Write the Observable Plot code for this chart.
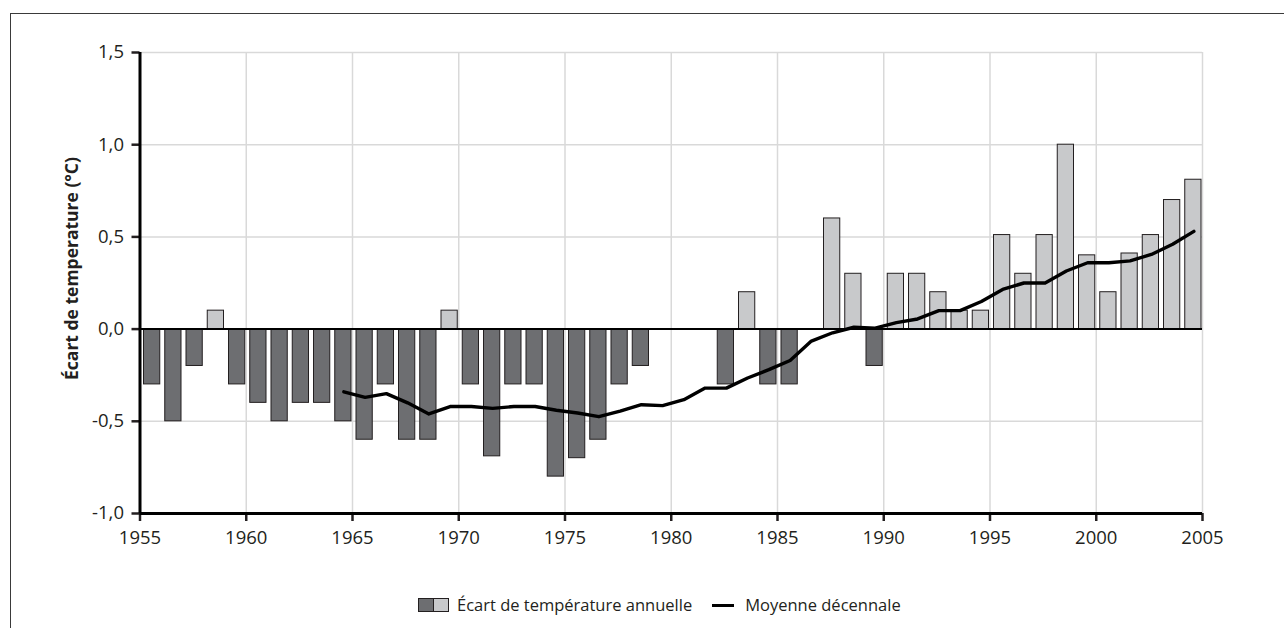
<!DOCTYPE html>
<html><head><meta charset="utf-8">
<script src="https://cdn.jsdelivr.net/npm/d3@7"></script>
<script src="https://cdn.jsdelivr.net/npm/@observablehq/plot@0.6"></script>
<style>
body{margin:0;background:#fff;font-family:"Open Sans",sans-serif;width:1284px;height:628px;overflow:hidden;position:relative;}
#frame{position:absolute;left:10px;top:13px;width:1300px;height:640px;border:1.5px solid #3a3a3a;box-sizing:border-box}
#chart{position:absolute;left:0;top:0;width:1284px}
#legend{position:absolute;left:418px;top:595px;display:flex;align-items:center;font-size:16.5px;color:#231f20;line-height:20px;white-space:nowrap}
.sw{display:inline-block;width:16px;height:14px;border:1px solid #231f20;box-sizing:border-box}
.ln{display:inline-block;width:22px;height:3px;background:#000}
</style></head><body>
<div id="frame"></div>
<div id="chart"></div>
<div id="legend">
  <span class="sw" style="background:#6d6e71"></span><span class="sw" style="background:#c8c9cb;margin-left:-1px"></span>
  <span style="margin-left:8px">Écart de température annuelle</span>
  <span class="ln" style="margin-left:20px"></span>
  <span style="margin-left:11px">Moyenne décennale</span>
</div>
<script>
const years = [1955,1956,1957,1958,1959,1960,1961,1962,1963,1964,1965,1966,1967,1968,1969,1970,1971,1972,1973,1974,1975,1976,1977,1978,1979,1980,1981,1982,1983,1984,1985,1986,1987,1988,1989,1990,1991,1992,1993,1994,1995,1996,1997,1998,1999,2000,2001,2002,2003,2004];
const anomalies = [-0.3,-0.5,-0.2,0.1,-0.3,-0.4,-0.5,-0.4,-0.4,-0.5,-0.6,-0.3,-0.6,-0.6,0.1,-0.3,-0.69,-0.3,-0.3,-0.8,-0.7,-0.6,-0.3,-0.2,0,0,0,-0.3,0.2,-0.3,-0.3,0,0.6,0.3,-0.2,0.3,0.3,0.2,0.1,0.1,0.51,0.3,0.51,1.0,0.4,0.2,0.41,0.51,0.7,0.81];
const meanYears = [1964,1965,1966,1967,1968,1969,1970,1971,1972,1973,1974,1975,1976,1977,1978,1979,1980,1981,1982,1983,1984,1985,1986,1987,1988,1989,1990,1991,1992,1993,1994,1995,1996,1997,1998,1999,2000,2001,2002,2003,2004];
const meanValues = [-0.34,-0.37,-0.35,-0.40,-0.46,-0.42,-0.42,-0.43,-0.42,-0.42,-0.44,-0.455,-0.475,-0.445,-0.41,-0.415,-0.383,-0.32,-0.32,-0.265,-0.22,-0.17,-0.065,-0.02,0.01,0.005,0.035,0.055,0.10,0.10,0.15,0.215,0.25,0.25,0.315,0.36,0.36,0.37,0.405,0.46,0.53];
const xTicks = [1955,1960,1965,1970,1975,1980,1985,1990,1995,2000,2005];
const yTicks = [-1,-0.5,0,0.5,1,1.5];
const yLabel = "Écart de temperature (°C)";

const bars = years.map((year, i) => ({year, value: anomalies[i]})).filter(d => d.value !== 0);
const mean = meanYears.map((year, i) => ({year, value: meanValues[i]}));

const chart = Plot.plot({
  width: 1284, height: 575,
  marginLeft: 139.5, marginRight: 82, marginTop: 52, marginBottom: 62,
  style: {fontFamily: "'Open Sans', sans-serif", fontSize: "18.5px", color: "#231f20", background: "transparent", overflow: "visible"},
  x: {type: "linear", domain: [1955, 2005]},
  y: {domain: [-1, 1.5]},
  marks: [
    Plot.gridX(xTicks.slice(1), {stroke: "#d9d9d9", strokeOpacity: 1, strokeWidth: 1.5}),
    Plot.gridY(yTicks.filter(d => d !== 0 && d !== -1), {stroke: "#d9d9d9", strokeOpacity: 1, strokeWidth: 1.5}),
    Plot.rectY(bars.filter(d => d.value < 0), {x1: "year", x2: d => d.year + 1, y: "value", fill: "#6d6e71", stroke: "#231f20", strokeWidth: 1, insetLeft: 4, insetRight: 1}),
    Plot.rectY(bars.filter(d => d.value > 0), {x1: "year", x2: d => d.year + 1, y: "value", fill: "#c8c9cb", stroke: "#231f20", strokeWidth: 1, insetLeft: 4, insetRight: 1}),
    Plot.ruleY([0], {stroke: "#000", strokeWidth: 2}),
    Plot.line(mean, {x: d => d.year + 0.5, y: "value", stroke: "#000", strokeWidth: 3.4, dx: 2}),
    Plot.axisX({ticks: xTicks, tickFormat: d => String(d), tickSize: 8, tickPadding: 9, strokeWidth: 2.5, label: null, fill: "#231f20", fontSize: 18.5}),
    Plot.axisY({ticks: yTicks, tickFormat: d => d.toFixed(1).replace(".", ","), tickSize: 8, tickPadding: 8, strokeWidth: 2.5, label: null, fill: "#231f20", fontSize: 18.5}),
    Plot.ruleX([1955], {stroke: "#000", strokeWidth: 3}),
    Plot.ruleY([-1], {stroke: "#000", strokeWidth: 3}),
    Plot.text([yLabel], {text: d => d, frameAnchor: "left", textAnchor: "middle", rotate: -90, dx: -67.5, dy: -14.5, fontWeight: "bold", fontSize: 17.5, fill: "#231f20"})
  ]
});
document.getElementById("chart").appendChild(chart);
</script>
</body></html>
